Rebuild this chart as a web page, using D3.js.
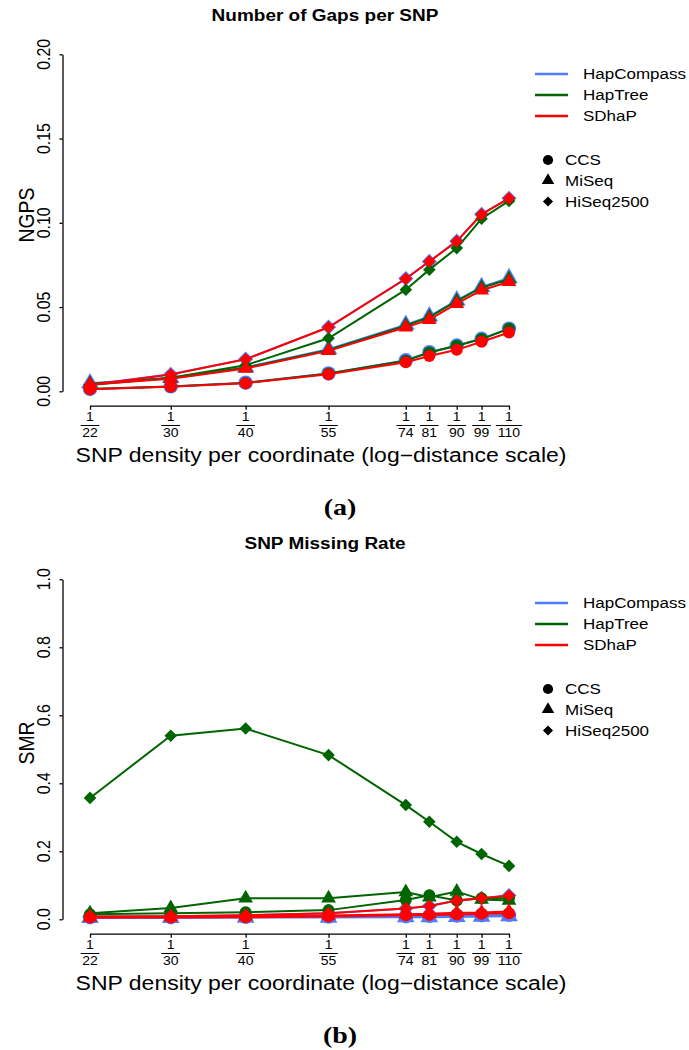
<!DOCTYPE html>
<html><head><meta charset="utf-8">
<script src="https://cdn.jsdelivr.net/npm/d3@7"></script>
<style>body{margin:0;background:#fff}svg{display:block}</style>
</head><body><svg id="c" width="689" height="1050"></svg>
<script>
// ---------- data ----------
const densities = [22, 30, 40, 55, 74, 81, 90, 99, 110];
const methods = ["HapCompass", "HapTree", "SDhaP"];
const datasets = ["CCS", "MiSeq", "HiSeq2500"];
const ngpsTicks = [0, 0.05, 0.10, 0.15, 0.20];
const smrTicks = [0, 0.2, 0.4, 0.6, 0.8, 1.0];

// Number of Gaps per SNP (NGPS)
const ngpsHapCompassCCS   = [0.0014, 0.0029, 0.0051, 0.0106, 0.0184, 0.0232, 0.0272, 0.0312, 0.0372];
const ngpsHapCompassMiSeq = [0.0048, 0.0080, 0.0142, 0.0250, 0.0395, 0.0445, 0.0540, 0.0620, 0.0672];
const ngpsHapCompassHiSeq = [0.0039, 0.0101, 0.0191, 0.0381, 0.0669, 0.0771, 0.0891, 0.1051, 0.1146];
const ngpsHapTreeCCS      = [0.0013, 0.0028, 0.0050, 0.0105, 0.0182, 0.0230, 0.0270, 0.0310, 0.0371];
const ngpsHapTreeMiSeq    = [0.0045, 0.0078, 0.0140, 0.0245, 0.0390, 0.0440, 0.0535, 0.0615, 0.0665];
const ngpsHapTreeHiSeq    = [0.0038, 0.0080, 0.0155, 0.0315, 0.0603, 0.0722, 0.0850, 0.1024, 0.1130];
const ngpsSDhaPCCS        = [0.0012, 0.0027, 0.0048, 0.0101, 0.0173, 0.0210, 0.0246, 0.0294, 0.0349];
const ngpsSDhaPMiSeq      = [0.0040, 0.0075, 0.0135, 0.0240, 0.0380, 0.0425, 0.0520, 0.0600, 0.0650];
const ngpsSDhaPHiSeq      = [0.0038, 0.0100, 0.0190, 0.0380, 0.0668, 0.0770, 0.0890, 0.1050, 0.1145];

// SNP Missing Rate (SMR)
const smrHapCompassCCS    = [0.006, 0.006, 0.007, 0.008, 0.009, 0.010, 0.011, 0.012, 0.013];
const smrHapCompassMiSeq  = [0.004, 0.004, 0.005, 0.005, 0.006, 0.006, 0.007, 0.008, 0.009];
const smrHapCompassHiSeq  = [0.008, 0.009, 0.012, 0.018, 0.032, 0.039, 0.055, 0.062, 0.070];
const smrHapTreeCCS       = [0.015, 0.018, 0.021, 0.027, 0.057, 0.071, 0.055, 0.062, 0.062];
const smrHapTreeMiSeq     = [0.018, 0.033, 0.062, 0.062, 0.080, 0.065, 0.082, 0.058, 0.055];
const smrHapTreeHiSeq     = [0.357, 0.540, 0.561, 0.483, 0.336, 0.287, 0.228, 0.192, 0.157];
const smrSDhaPCCS         = [0.005, 0.005, 0.006, 0.008, 0.012, 0.013, 0.014, 0.016, 0.018];
const smrSDhaPMiSeq       = [0.006, 0.007, 0.009, 0.011, 0.015, 0.016, 0.019, 0.020, 0.023];
const smrSDhaPHiSeq       = [0.008, 0.009, 0.012, 0.018, 0.032, 0.039, 0.055, 0.062, 0.070];

// ---------- drawing ----------
const svg = d3.select("#c");
svg.append("rect").attr("width", 689).attr("height", 1050).attr("fill", "#fff");
const SQ = 0.86;
const FONT = "'Liberation Sans', Arial, Helvetica, sans-serif";
const colors = {HapCompass: "#4F7CFF", HapTree: "#006400", SDhaP: "#FF0000"};
const shapes = {CCS: "circle", MiSeq: "triangle", HiSeq2500: "diamond"};
const sizeK = {HapCompass: 1.2, HapTree: 1.0, SDhaP: 1.0};

function shapePath(shape, k) {
  if (shape === "circle") { const r = 6 * k; return d3.symbol(d3.symbolCircle, Math.PI * r * r)(); }
  if (shape === "triangle") { const r = 8.5 * k, xc = r * Math.sqrt(3) / 2; return `M0,${-r}L${xc},${r / 2}L${-xc},${r / 2}Z`; }
  const d = 6.3 * k; return `M0,${-d}L${d},0L0,${d}L${-d},0Z`;
}

function hText(g, x, y, str, size, opts = {}) {
  return g.append("text")
    .attr("transform", `translate(${x},${y}) scale(1,${SQ})`)
    .attr("text-anchor", opts.anchor || "middle")
    .attr("font-family", opts.family || FONT)
    .attr("font-size", size)
    .attr("font-weight", opts.weight || "normal")
    .attr("fill", "#000")
    .text(str);
}
function vText(g, x, y, str, size) {
  return g.append("text")
    .attr("transform", `translate(${x},${y}) rotate(-90) scale(${SQ},1)`)
    .attr("text-anchor", "middle")
    .attr("font-family", FONT)
    .attr("font-size", size)
    .attr("fill", "#000")
    .text(str);
}

const x = d3.scaleLog().domain([22, 110]).range([90, 509]);

function drawPanel(cfg) {
  const g = svg.append("g");
  const off = cfg.off;
  const y = d3.scaleLinear().domain([0, cfg.ticks[cfg.ticks.length - 1]]).range([cfg.yBot, cfg.yTop]);

  // title
  hText(g, 325, 21 + off, cfg.title, 19, {weight: "bold"});

  // y axis
  const ya = g.append("g").attr("transform", "translate(62.5,0)")
    .call(d3.axisLeft(y).tickValues(cfg.ticks).tickSizeInner(3).tickSizeOuter(0).tickFormat(""));
  ya.selectAll("path,line").attr("stroke", "#000").attr("stroke-width", 1.3);
  cfg.ticks.forEach(t => vText(g, 50, y(t), cfg.fmt(t), 18.5));
  vText(g, 33.5, 215 + off, cfg.ylabel, 22.5);

  // x axis
  const xa = g.append("g").attr("transform", `translate(0,${cfg.xAxisY})`)
    .call(d3.axisBottom(x).tickValues(densities).tickSizeInner(4).tickSizeOuter(0).tickFormat(""));
  xa.selectAll("path,line").attr("stroke", "#000").attr("stroke-width", 1.3);
  densities.forEach(d => {
    const cx = x(d);
    hText(g, cx, 421 + off, "1", 14);
    hText(g, cx, 437 + off, String(d), 14);
    const w = String(d).length * 7.8 + 3;
    g.append("line").attr("x1", cx - w / 2).attr("x2", cx + w / 2)
      .attr("y1", 425.5 + off).attr("y2", 425.5 + off)
      .attr("stroke", "#000").attr("stroke-width", 1);
  });
  hText(g, 321, 461.5 + off, "SNP density per coordinate (log\u2212distance scale)", 23);

  // series
  const line = d3.line().x(d => x(d.x)).y(d => y(d.v));
  methods.forEach(m => {
    datasets.forEach(ds => {
      const vals = cfg.data[m][ds];
      const pts = densities.map((d, i) => ({x: d, v: vals[i]}));
      g.append("path").datum(pts).attr("d", line)
        .attr("fill", "none").attr("stroke", colors[m]).attr("stroke-width", 2);
      g.selectAll(null).data(pts).enter().append("path")
        .attr("transform", d => `translate(${x(d.x)},${y(d.v)})`)
        .attr("d", shapePath(shapes[ds], sizeK[m]))
        .attr("fill", colors[m]);
    });
  });

  // legends
  const ly = [74, 95, 116];
  methods.forEach((m, i) => {
    g.append("line").attr("x1", 535).attr("x2", 568)
      .attr("y1", ly[i] + cfg.loff).attr("y2", ly[i] + cfg.loff)
      .attr("stroke", colors[m]).attr("stroke-width", 2.5);
    hText(g, 583, ly[i] + cfg.loff + 5.2, m, 17, {anchor: "start"});
  });
  const sy = [160, 180.5, 201.5];
  const legK = {circle: 0.85, triangle: 0.85, diamond: 0.8};
  datasets.forEach((ds, i) => {
    g.append("path").attr("transform", `translate(548,${sy[i] + cfg.loff})`)
      .attr("d", shapePath(shapes[ds], legK[shapes[ds]])).attr("fill", "#000");
    hText(g, 565, sy[i] + cfg.loff + 5.2, ds, 17, {anchor: "start"});
  });

  // caption
  hText(g, 340, 515 + off, cfg.caption, 28, {weight: "bold", family: "'Liberation Serif', 'Times New Roman', serif"});
}

drawPanel({
  title: "Number of Gaps per SNP", ylabel: "NGPS", caption: "(a)",
  ticks: ngpsTicks, fmt: d3.format(".2f"), yTop: 54.3, yBot: 391.3, xAxisY: 405.7, off: 0, loff: 0,
  data: {
    HapCompass: {CCS: ngpsHapCompassCCS, MiSeq: ngpsHapCompassMiSeq, HiSeq2500: ngpsHapCompassHiSeq},
    HapTree: {CCS: ngpsHapTreeCCS, MiSeq: ngpsHapTreeMiSeq, HiSeq2500: ngpsHapTreeHiSeq},
    SDhaP: {CCS: ngpsSDhaPCCS, MiSeq: ngpsSDhaPMiSeq, HiSeq2500: ngpsSDhaPHiSeq}
  }
});
drawPanel({
  title: "SNP Missing Rate", ylabel: "SMR", caption: "(b)",
  ticks: smrTicks, fmt: d3.format(".1f"), yTop: 579.3, yBot: 919.3, xAxisY: 933.7, off: 528, loff: 529,
  data: {
    HapCompass: {CCS: smrHapCompassCCS, MiSeq: smrHapCompassMiSeq, HiSeq2500: smrHapCompassHiSeq},
    HapTree: {CCS: smrHapTreeCCS, MiSeq: smrHapTreeMiSeq, HiSeq2500: smrHapTreeHiSeq},
    SDhaP: {CCS: smrSDhaPCCS, MiSeq: smrSDhaPMiSeq, HiSeq2500: smrSDhaPHiSeq}
  }
});
</script></body></html>
